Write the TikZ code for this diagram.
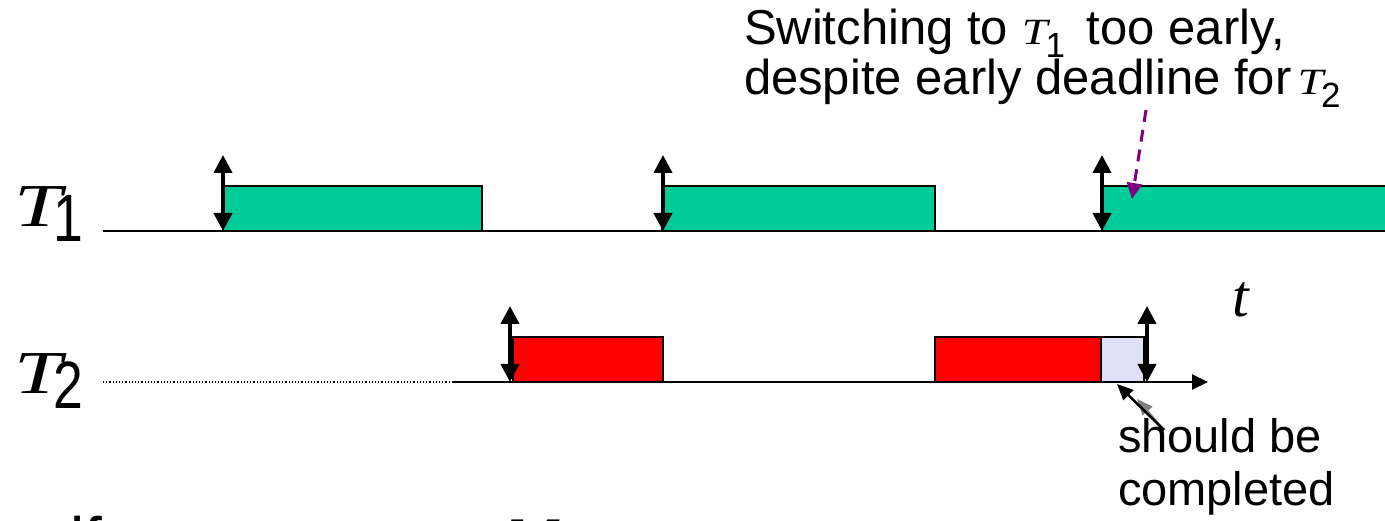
\documentclass[tikz,border=0pt]{standalone}
\usepackage{fontspec}
\usepackage{graphicx}
\setmainfont{Liberation Sans}
\newfontfamily\tms{Liberation Serif}
\usetikzlibrary{arrows.meta}

\definecolor{jobgreen}{RGB}{0,204,153}
\definecolor{jobred}{RGB}{255,0,0}
\definecolor{missed}{RGB}{224,224,248}
\definecolor{notecol}{RGB}{128,0,128}

\tikzset{
  txt/.style={inner sep=0pt, outer sep=0pt, anchor=base west},
  job/.style={draw=black, line width=2pt, inner sep=0pt, outer sep=0pt, anchor=south west},
  axis/.style={line width=2pt, black},
  release/.style={line width=4pt, {Triangle[length=18pt,width=18pt]}-{Triangle[length=18pt,width=18pt]}},
  note/.style={notecol, line width=3pt, dash pattern=on 12pt off 8pt, -{Triangle[length=16pt,width=15pt]}},
}

% task name: italic T with an upright digit below it
\newcommand{\tasklabel}[1]{%
  \scalebox{1.4}[1]{\tms\itshape\fontsize{61}{61}\selectfont T}%
  \kern-9pt\raisebox{-15pt}{\scalebox{0.8}[1]{\fontsize{67}{67}\selectfont #1}}}
\newcommand{\smalltask}[1]{%
  \scalebox{1.25}[1]{\tms\itshape\fontsize{37}{37}\selectfont T}%
  \kern-2pt\raisebox{-13pt}{\fontsize{35}{35}\selectfont #1}}

\begin{document}
\begin{tikzpicture}[x=1pt, y=-1pt]
\useasboundingbox (0,0) rectangle (1385,521);
\clip (0,0) rectangle (1385,521);

% row labels
\node[txt] (lab1) at (15,227) {\tasklabel{1}};
\node[txt] (lab2) at (15,393) {\tasklabel{2}};
\node[txt] (tlab) at (1232,317) {\tms\itshape\fontsize{60}{60}\selectfont t};

% time lines
\coordinate (r1s) at (103,231);
\coordinate (r1e) at (1400,231);
\draw[axis] (r1s) -- (r1e);
\coordinate (r2s) at (103,382);
\coordinate (r2m) at (452,382);
\coordinate (r2e) at (1208,382);
\draw[line width=1.2pt, dotted] (r2s) -- (r2m);
\draw[axis, -{Triangle[length=16pt,width=15pt]}] (r2m) -- (r2e);

% executions of T1
\node[job, fill=jobgreen, minimum width=259pt, minimum height=45pt] (g1) at (223,231) {};
\node[job, fill=jobgreen, minimum width=273pt, minimum height=45pt] (g2) at (662,231) {};
\node[job, fill=jobgreen, minimum width=320pt, minimum height=45pt] (g3) at (1102,231) {};

% executions of T2
\node[job, fill=jobred, minimum width=150pt, minimum height=45pt] (r1) at (513,382) {};
\node[job, fill=jobred, minimum width=166pt, minimum height=45pt] (r2) at (935,382) {};
\node[job, fill=missed, minimum width=43pt, minimum height=45pt] (m1) at (1101,382) {};

% release / deadline markers
\coordinate (d1t) at (223,155); \coordinate (d1b) at (223,231);
\coordinate (d2t) at (663,155); \coordinate (d2b) at (663,231);
\coordinate (d3t) at (1102,155); \coordinate (d3b) at (1102,231);
\coordinate (e1t) at (510,306); \coordinate (e1b) at (510,382);
\coordinate (e2t) at (1147,306); \coordinate (e2b) at (1147,382);
\foreach \p in {d1,d2,d3,e1,e2} \draw[release] (\p t) -- (\p b);

% annotation of the early switch
\node[txt] (note1) at (744,45) {\fontsize{49}{50}\selectfont Switching to \smalltask{1}\hspace{22pt}too early,};
\node[txt] (note2) at (744,95) {\fontsize{49}{50}\selectfont despite early deadline for\hspace{6pt}\smalltask{2}};
\coordinate (notefrom) at (1146,110);
\coordinate (noteto) at (1132,199);
\draw[note] (notefrom) -- (noteto);

% annotation of the missed part
\node[txt] (miss1) at (1118,453) {\fontsize{47}{52}\selectfont should be};
\node[txt] (miss2) at (1118,505) {\fontsize{47}{52}\selectfont completed};
\coordinate (missfrom) at (1164,430);
\coordinate (missgrey) at (1137,399);
\coordinate (missto) at (1117,384);
\draw[gray, line width=2pt, -{Triangle[length=16pt,width=13pt]}] (missfrom) -- (missgrey);
\draw[black, line width=2.5pt, -{Triangle[length=16pt,width=14pt]}] (missfrom) -- (missto);

% start of the next line of text
\node[txt] (cond) at (70,562) {\fontsize{64}{64}\selectfont if};
\node[txt] (mvar) at (505,560) {\tms\itshape\fontsize{62}{62}\selectfont M};
\end{tikzpicture}
\end{document}
